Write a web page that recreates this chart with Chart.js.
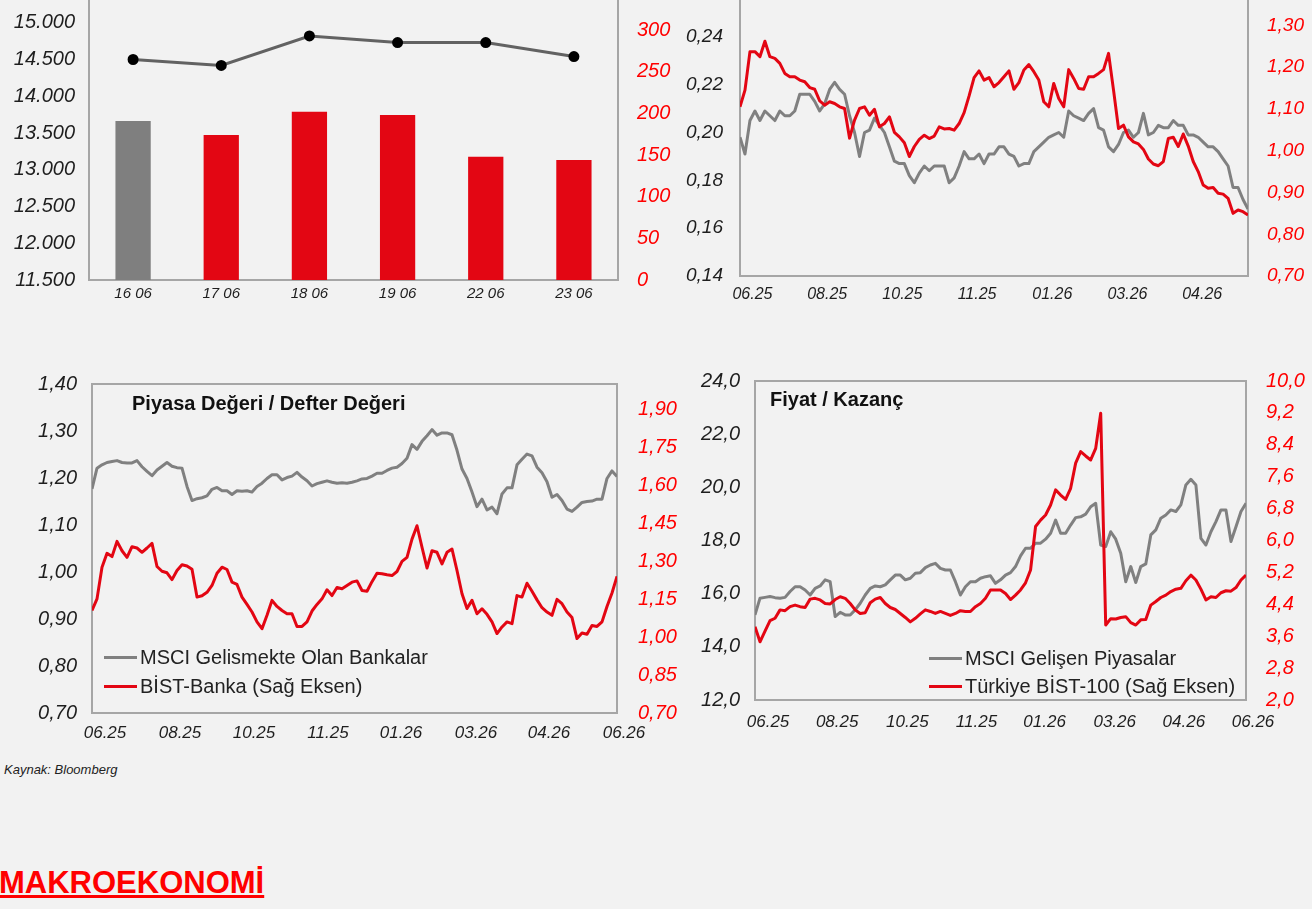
<!DOCTYPE html>
<html>
<head>
<meta charset="utf-8">
<script src="https://cdn.jsdelivr.net/npm/chart.js@4.4.0/dist/chart.umd.min.js"></script>
<style>
  body { margin: 0; width: 1312px; height: 909px; overflow: hidden; position: relative; background: #f2f2f2; font-family: "Liberation Sans", Arial, sans-serif; }
  canvas { position: absolute; }
  .title { position: absolute; font-weight: bold; font-size: 20px; color: #111; white-space: nowrap; }
  .leg { position: absolute; font-size: 20px; color: #222; white-space: nowrap; line-height: 22px; }
  .leg i { display: inline-block; width: 33px; height: 3px; vertical-align: middle; margin-right: 3px; position: relative; top: -1px; }
  .src { position: absolute; left: 4px; top: 762px; font-size: 13px; font-style: italic; color: #222; }
  .head { position: absolute; left: -1px; top: 865px; font-size: 31px; font-weight: bold; color: #ff0000; text-decoration: underline; }
</style>
</head>
<body>
<canvas id="c1" width="690" height="340" style="left:0;top:-30px"></canvas>
<canvas id="c2" width="652" height="336" style="left:660px;top:-30px"></canvas>
<canvas id="c3" width="690" height="395" style="left:0;top:360px"></canvas>
<canvas id="c4" width="652" height="385" style="left:660px;top:360px"></canvas>

<div class="title" style="left:132px;top:392px">Piyasa Değeri / Defter Değeri</div>
<div class="leg" style="left:104px;top:646px"><i style="background:#808080"></i>MSCI Gelismekte Olan Bankalar</div>
<div class="leg" style="left:104px;top:675px"><i style="background:#e30613"></i>BİST-Banka (Sağ Eksen)</div>

<div class="title" style="left:770px;top:388px">Fiyat / Kazanç</div>
<div class="leg" style="left:929px;top:647px"><i style="background:#808080"></i>MSCI Gelişen Piyasalar</div>
<div class="leg" style="left:929px;top:675px"><i style="background:#e30613"></i>Türkiye BİST-100 (Sağ Eksen)</div>

<div class="src">Kaynak: Bloomberg</div>
<div class="head">MAKROEKONOMİ</div>

<script>
// top left: daily bars + line
var barDays = ['16 06', '17 06', '18 06', '19 06', '22 06', '23 06'];
var barValues = [191, 174, 202, 198, 148, 144];
var barLine = [14500, 14420, 14820, 14730, 14730, 14540];

// top right
var trMonths = ['06.25', '08.25', '10.25', '11.25', '01.26', '03.26', '04.26'];
var trMonthAt = [2.5, 17.5, 32.6, 47.6, 62.7, 77.8, 92.8];
var trGray = [
  0.198,0.191,0.205,0.209,0.205,0.209,0.207,0.205,0.209,0.207,
  0.207,0.209,0.216,0.216,0.216,0.213,0.209,0.212,0.218,0.221,
  0.218,0.216,0.207,0.200,0.190,0.200,0.201,0.206,0.203,0.200,
  0.194,0.188,0.187,0.187,0.182,0.179,0.183,0.186,0.184,0.186,
  0.186,0.186,0.179,0.181,0.186,0.192,0.189,0.189,0.191,0.187,
  0.191,0.191,
  0.194,0.194,0.191,0.190,0.186,0.187,0.187,0.192,0.194,0.196,
  0.198,0.199,0.200,0.198,0.209,0.207,0.206,0.205,0.208,0.210,
  0.202,0.201,0.194,0.192,0.195,0.200,0.201,0.198,0.200,0.208,
  0.199,0.200,0.203,0.202,0.202,0.205,0.203,0.203,0.199,0.199,
  0.198,0.196,0.194,0.194,0.192,0.189,0.186,0.177,0.177,0.172,
  0.168
];
var trRed = [
  1.105,1.145,1.237,1.237,1.225,1.262,1.225,1.221,1.209,1.185,
  1.177,1.177,1.169,1.165,1.151,1.147,1.119,1.109,1.117,1.113,
  1.105,1.101,1.030,1.073,1.101,1.105,1.085,1.099,1.057,1.065,
  1.081,1.044,1.033,1.019,0.986,1.010,1.027,1.037,1.029,1.035,
  1.057,1.052,1.053,1.049,1.065,1.091,1.131,1.175,1.191,1.169,
  1.175,1.153,
  1.163,1.177,1.191,1.147,1.163,1.193,1.206,1.189,1.169,1.117,
  1.105,1.161,1.125,1.105,1.194,1.173,1.149,1.147,1.177,1.177,
  1.185,1.194,1.233,1.145,1.053,1.061,1.033,1.021,1.016,1.003,
  0.980,0.968,0.964,0.974,1.029,1.032,1.010,1.040,1.011,0.974,
  0.950,0.918,0.910,0.912,0.898,0.896,0.886,0.850,0.858,0.854,
  0.846
];

// bottom left: Piyasa Değeri / Defter Değeri
var pdMonths = ['06.25', '08.25', '10.25', '11.25', '01.26', '03.26', '04.26', '06.26'];
var pdMonthAt = [2.6, 17.6, 32.4, 47.2, 61.8, 76.8, 91.4, 106.4];
var pdMsci = [
  1.177,1.221,1.228,1.233,1.235,1.237,1.233,1.232,1.232,1.237,
  1.224,1.214,1.205,1.217,1.225,1.233,1.225,1.222,1.221,1.182,
  1.152,1.156,1.158,1.162,1.176,1.180,1.173,1.173,1.165,1.173,
  1.172,1.173,1.170,1.182,1.189,1.199,1.207,1.207,1.196,1.201,
  1.204,1.212,1.202,1.194,1.183,1.188,1.191,1.194,1.191,1.189,
  1.190,1.189,1.191,
  1.194,1.198,1.199,1.204,1.210,1.210,1.216,1.221,1.223,1.231,
  1.242,1.271,1.261,1.278,1.290,1.303,1.291,1.296,1.296,1.292,
  1.259,1.219,1.199,1.170,1.139,1.155,1.132,1.138,1.124,1.166,
  1.179,1.179,1.228,1.240,1.251,1.247,1.223,1.211,1.192,1.159,
  1.165,1.152,1.134,1.129,1.138,1.148,1.150,1.151,1.155,1.155,
  1.199,1.215,1.203
];
var pdBist = [
  1.105,1.151,1.276,1.331,1.318,1.378,1.341,1.315,1.357,1.352,
  1.335,1.352,1.370,1.279,1.260,1.254,1.227,1.263,1.286,1.281,
  1.268,1.158,1.163,1.177,1.204,1.252,1.276,1.267,1.217,1.208,
  1.158,1.129,1.099,1.060,1.033,1.086,1.145,1.121,1.105,1.092,
  1.092,1.042,1.042,1.060,1.103,1.129,1.151,1.187,1.164,1.196,
  1.191,1.204,1.217,
  1.222,1.184,1.181,1.219,1.252,1.250,1.246,1.243,1.259,1.299,
  1.315,1.387,1.440,1.355,1.273,1.341,1.335,1.289,1.335,1.348,
  1.263,1.171,1.113,1.145,1.092,1.112,1.090,1.060,1.014,1.040,
  1.060,1.053,1.164,1.158,1.213,1.181,1.147,1.116,1.099,1.086,
  1.149,1.132,1.099,1.077,0.994,1.016,1.011,1.046,1.042,1.060,
  1.121,1.174,1.240
];

// bottom right: Fiyat / Kazanç
var fkMonths = ['06.25', '08.25', '10.25', '11.25', '01.26', '03.26', '04.26', '06.26'];
var fkMonthAt = [2.6, 16.4, 30.4, 44.2, 57.8, 71.8, 85.6, 99.4];
var fkMsci = [
  15.20,15.83,15.86,15.89,15.85,15.83,15.86,16.08,16.26,16.26,
  16.14,15.95,16.20,16.29,16.52,16.45,15.14,15.30,15.20,15.20,
  15.39,15.64,15.95,16.20,16.29,16.26,16.33,16.52,16.70,16.70,
  16.52,16.58,16.77,16.79,16.98,17.08,17.14,16.95,16.89,16.89,
  16.45,15.95,16.26,16.45,16.45,16.58,16.64,16.67,16.39,
  16.52,16.70,16.79,17.02,17.42,17.71,17.71,17.90,17.90,18.05,
  18.27,18.77,18.27,18.27,18.58,18.86,18.89,18.99,19.27,19.40,
  17.83,17.77,18.33,18.05,17.52,16.45,17.02,16.42,17.02,17.12,
  18.21,18.40,18.84,18.96,19.15,19.09,19.34,20.09,20.30,20.09,
  18.08,17.83,18.33,18.71,19.15,19.15,17.96,18.52,19.09,19.40
];
var fkBist = [
  3.84,3.46,3.73,3.99,4.05,4.26,4.24,4.34,4.38,4.34,
  4.32,4.53,4.55,4.51,4.42,4.41,4.52,4.59,4.55,4.42,
  4.26,4.17,4.19,4.44,4.53,4.57,4.42,4.32,4.27,4.17,
  4.07,3.96,4.05,4.16,4.26,4.22,4.17,4.22,4.17,4.12,
  4.17,4.24,4.22,4.22,4.34,4.42,4.55,4.76,4.76,
  4.76,4.67,4.52,4.63,4.76,4.94,5.26,6.35,6.51,6.64,
  6.89,7.27,7.14,7.03,7.31,7.94,8.23,8.12,8.02,8.31,
  9.19,3.88,4.04,4.03,4.07,4.09,3.94,3.88,4.01,4.02,
  4.38,4.47,4.57,4.63,4.72,4.78,4.80,4.99,5.13,5.01,
  4.78,4.51,4.59,4.57,4.69,4.74,4.73,4.82,5.01,5.13
];

var GRAY = '#808080';
var RED = '#e30613';
var TICKRED = '#ff0000';
var DARK = '#1e1e1e';

// plot frame round the chart area
var frame = {
  id: 'frame',
  beforeDatasetsDraw: function(chart) {
    var a = chart.chartArea, c = chart.ctx;
    c.save();
    c.strokeStyle = '#a6a6a6';
    c.lineWidth = 2;
    c.strokeRect(a.left, a.top, a.right - a.left, a.bottom - a.top);
    c.restore();
  }
};

// fixed axis sizes, and no extra label padding in the layout
function fixWidth(w) {
  return function(scale) { scale.width = w; scale.paddingTop = 0; scale.paddingBottom = 0; };
}
function fixHeight(h) {
  return function(scale) { scale.height = h; scale.paddingLeft = 0; scale.paddingRight = 0; };
}
function setTicks(list) {
  return function(axis) { axis.ticks = list.map(function(v) { return { value: v }; }); };
}
function comma(d) { return function(v) { return Number(v).toFixed(d).replace('.', ','); }; }
function dots(v) { return String(Math.round(v)).replace(/\B(?=(\d{3})+(?!\d))/g, '.'); }
function pts(arr) { return arr.map(function(v, i) { return { x: i, y: v }; }); }
function steps(from, to, step) {
  var out = [];
  for (var v = from; v <= to + 1e-9; v += step) out.push(Math.round(v * 1000) / 1000);
  return out;
}

function yAxis(pos, min, max, color, width, pad, size, fmt, tickList) {
  return {
    type: 'linear', position: pos, min: min, max: max,
    grid: { display: false, drawTicks: false }, border: { display: false },
    afterBuildTicks: setTicks(tickList),
    ticks: { color: color, padding: pad, font: { size: size, style: 'italic' }, callback: fmt },
    afterFit: fixWidth(width)
  };
}

function xMonths(n, at, labels, height, pad, size) {
  return {
    type: 'linear', min: 0, max: n - 1,
    grid: { display: false, drawTicks: false }, border: { display: false },
    afterBuildTicks: setTicks(at),
    ticks: {
      autoSkip: false, maxRotation: 0, color: DARK, padding: pad,
      font: { size: size, style: 'italic' },
      callback: function(v, i) { return labels[i]; }
    },
    afterFit: fixHeight(height)
  };
}

function lineSet(arr, color, axis, order) {
  return {
    type: 'line', data: pts(arr), yAxisID: axis, borderColor: color, borderWidth: 3,
    pointRadius: 0, tension: 0, order: order, borderJoinStyle: 'round'
  };
}

Chart.defaults.font.family = '"Liberation Sans", Arial, sans-serif';
Chart.defaults.animation = false;

var common = {
  responsive: false,
  animation: false,
  plugins: { legend: { display: false }, tooltip: { enabled: false } }
};

// chart 1
new Chart(document.getElementById('c1'), {
  data: {
    labels: barDays,
    datasets: [
      {
        type: 'line', data: barLine, yAxisID: 'y', borderColor: '#626262', borderWidth: 3,
        pointRadius: 4, pointBackgroundColor: '#000', pointBorderColor: '#000', tension: 0, order: 0
      },
      {
        type: 'bar', data: barValues, yAxisID: 'y1',
        backgroundColor: barValues.map(function(v, i) { return i === 0 ? '#7f7f7f' : RED; }),
        barPercentage: 0.4, categoryPercentage: 1, order: 1
      }
    ]
  },
  options: Object.assign({}, common, {
    layout: { padding: { top: 16 } },
    scales: {
      x: {
        grid: { display: false, drawTicks: false }, border: { display: false },
        ticks: { color: DARK, padding: 5, font: { size: 15, style: 'italic' } },
        afterFit: fixHeight(30)
      },
      y: yAxis('left', 11500, 15500, DARK, 89, 14, 20, dots, steps(11500, 15500, 500)),
      y1: yAxis('right', 0, 353, TICKRED, 72, 19, 20, function(v) { return v; }, steps(0, 350, 50))
    }
  }),
  plugins: [frame]
});

// chart 2
new Chart(document.getElementById('c2'), {
  data: { datasets: [lineSet(trGray, GRAY, 'y', 1), lineSet(trRed, RED, 'y1', 0)] },
  options: Object.assign({}, common, {
    layout: { padding: { top: 19 } },
    scales: {
      x: xMonths(trGray.length, trMonthAt, trMonths, 30, 9, 16),
      y: yAxis('left', 0.14, 0.26, DARK, 80, 17, 19, comma(2), steps(0.14, 0.26, 0.02)),
      y1: yAxis('right', 0.70, 1.387, TICKRED, 64, 19, 19, comma(2), steps(0.70, 1.30, 0.1))
    }
  }),
  plugins: [frame]
});

// chart 3
new Chart(document.getElementById('c3'), {
  data: { datasets: [lineSet(pdMsci, GRAY, 'y', 1), lineSet(pdBist, RED, 'y1', 0)] },
  options: Object.assign({}, common, {
    layout: { padding: { top: 24 } },
    scales: {
      x: xMonths(pdMsci.length, pdMonthAt, pdMonths, 42, 10, 17),
      y: yAxis('left', 0.70, 1.40, DARK, 92, 15, 20, comma(2), steps(0.70, 1.40, 0.1)),
      y1: yAxis('right', 0.70, 2.00, TICKRED, 73, 21, 20, comma(2), steps(0.70, 1.90, 0.15))
    }
  }),
  plugins: [frame]
});

// chart 4
new Chart(document.getElementById('c4'), {
  data: { datasets: [lineSet(fkMsci, GRAY, 'y', 1), lineSet(fkBist, RED, 'y1', 0)] },
  options: Object.assign({}, common, {
    layout: { padding: { top: 21 } },
    scales: {
      x: xMonths(fkMsci.length, fkMonthAt, fkMonths, 45, 12, 17),
      y: yAxis('left', 12, 24, DARK, 95, 15, 20, comma(1), steps(12, 24, 2)),
      y1: yAxis('right', 2, 10, TICKRED, 66, 20, 20, comma(1), steps(2, 10, 0.8))
    }
  }),
  plugins: [frame]
});
</script>
</body>
</html>
